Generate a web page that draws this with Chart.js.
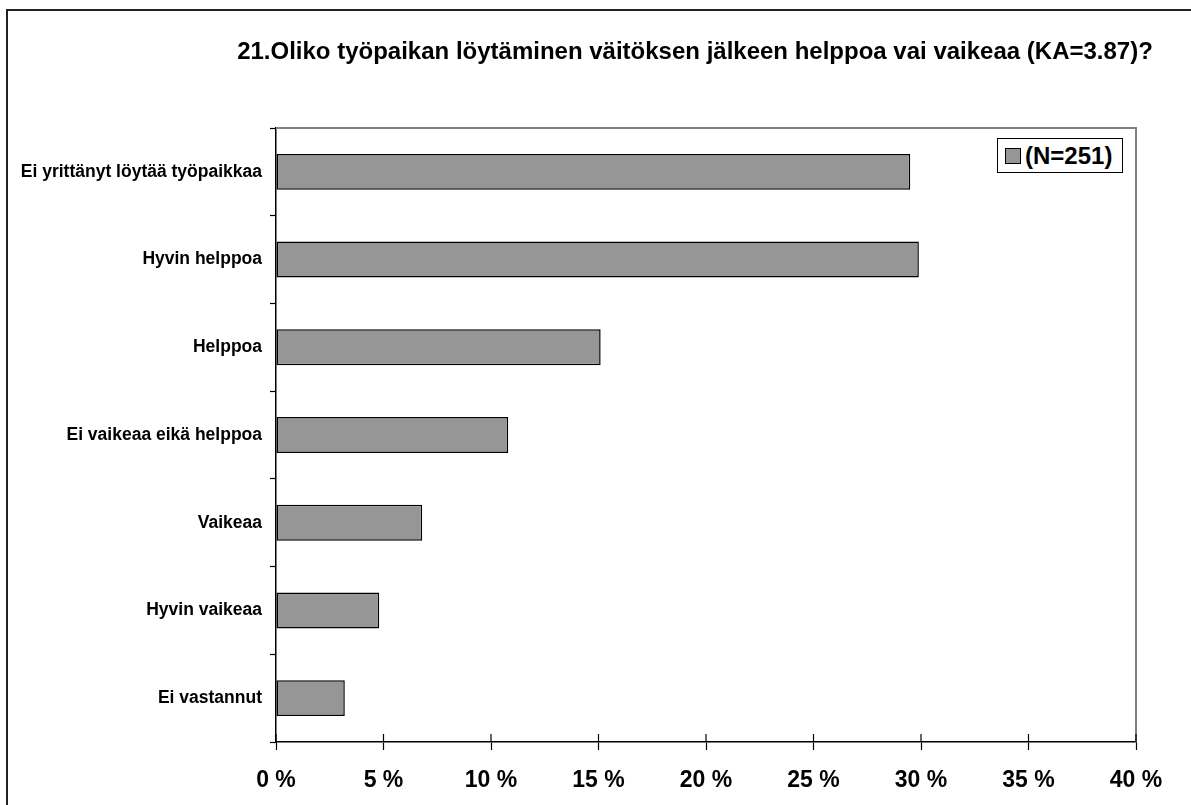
<!DOCTYPE html>
<html>
<head>
<meta charset="utf-8">
<script src="https://cdn.jsdelivr.net/npm/chart.js@4"></script>
<style>
  html, body { margin: 0; padding: 0; background: #fff; overflow: hidden; }
  #wrap { position: relative; width: 1191px; height: 805px; }
  #frame { position: absolute; left: 6px; top: 9px; width: 1400px; height: 1000px; border-left: 2px solid #222; border-top: 2px solid #222; }
  #title { position: absolute; left: 0; top: 36px; width: 1390px; text-align: center; white-space: nowrap;
           font: bold 24px/29px "Liberation Sans", Arial, sans-serif; color: #000; }
  #legend { position: absolute; left: 997px; top: 138px; width: 124px; height: 33px; border: 1px solid #000; background: #fff;
            font: bold 24px "Liberation Sans", Arial, sans-serif; color: #000; display: flex; align-items: center; }
  #legend .sw { display: inline-block; width: 14px; height: 14px; background: #969696; border: 1px solid #000; margin: 0 4px 0 7px; }
</style>
</head>
<body>
<div id="wrap">
  <div id="frame"></div>
  <canvas id="myChart" width="1191" height="805"></canvas>
  <div id="title"></div>
  <div id="legend"><span class="sw"></span><span id="legendText"></span></div>
</div>
<script>
// data (percent of N=251)
var categories = ["Ei yrittänyt löytää työpaikkaa", "Hyvin helppoa", "Helppoa", "Ei vaikeaa eikä helppoa", "Vaikeaa", "Hyvin vaikeaa", "Ei vastannut"];
var values = [29.5, 29.9, 15.1, 10.8, 6.8, 4.8, 3.2];
var xTicks = [0, 5, 10, 15, 20, 25, 30, 35, 40];
var seriesName = "(N=251)";
var titleText = "21.Oliko työpaikan löytäminen väitöksen jälkeen helppoa vai vaikeaa (KA=3.87)?";

var fontFamily = '"Liberation Sans", Arial, sans-serif';

document.getElementById('title').textContent = titleText;
document.getElementById('legendText').textContent = seriesName;

// gray top/right edge of plot area + inner half of x ticks
var plotFrame = {
    id: 'plotFrame',
    afterDraw: function (chart) {
        var ctx = chart.ctx, a = chart.chartArea, xs = chart.scales.x;
        ctx.save();
        ctx.strokeStyle = '#808080';
        ctx.lineWidth = 2;
        ctx.beginPath();
        ctx.moveTo(a.left, a.top);
        ctx.lineTo(a.right, a.top);
        ctx.lineTo(a.right, a.bottom);
        ctx.stroke();
        ctx.strokeStyle = '#000';
        ctx.lineWidth = 1.2;
        xs.ticks.forEach(function (t) {
            var px = xs.getPixelForValue(t.value);
            ctx.beginPath();
            ctx.moveTo(px, a.bottom);
            ctx.lineTo(px, a.bottom - 8);
            ctx.stroke();
        });
        ctx.restore();
    }
};

var ctx = document.getElementById('myChart').getContext('2d');
var myChart = new Chart(ctx, {
    type: 'bar',
    data: {
        labels: categories,
        datasets: [{
            label: seriesName,
            data: values,
            backgroundColor: '#969696',
            borderColor: '#000',
            borderWidth: 1.5,
            borderSkipped: false,
            barPercentage: 0.41,
            categoryPercentage: 1
        }]
    },
    options: {
        indexAxis: 'y',
        responsive: false,
        animation: false,
        layout: { padding: { left: 0, right: 55, top: 128, bottom: 0 } },
        plugins: {
            legend: { display: false },
            tooltip: { enabled: false },
            title: { display: false }
        },
        scales: {
            x: {
                min: 0,
                max: 40,
                afterBuildTicks: function (scale) {
                    scale.ticks = xTicks.map(function (v) { return { value: v }; });
                },
                afterFit: function (scale) { scale.height = 63; },
                grid: { drawOnChartArea: false, tickLength: 8, color: '#000', tickWidth: 1.2 },
                border: { color: '#000', width: 1.5 },
                ticks: {
                    color: '#000',
                    padding: 17,
                    maxRotation: 0,
                    font: { family: fontFamily, size: 23, weight: 'bold' },
                    callback: function (v) { return v + ' %'; }
                }
            },
            y: {
                afterFit: function (scale) { scale.width = 276; },
                grid: { drawOnChartArea: false, offset: true, tickLength: 6, color: '#000', tickWidth: 1.2 },
                border: { color: '#000', width: 1.5 },
                ticks: {
                    color: '#000',
                    padding: 8,
                    font: { family: fontFamily, size: 17.5, weight: 'bold' }
                }
            }
        }
    },
    plugins: [plotFrame]
});
</script>
</body>
</html>
